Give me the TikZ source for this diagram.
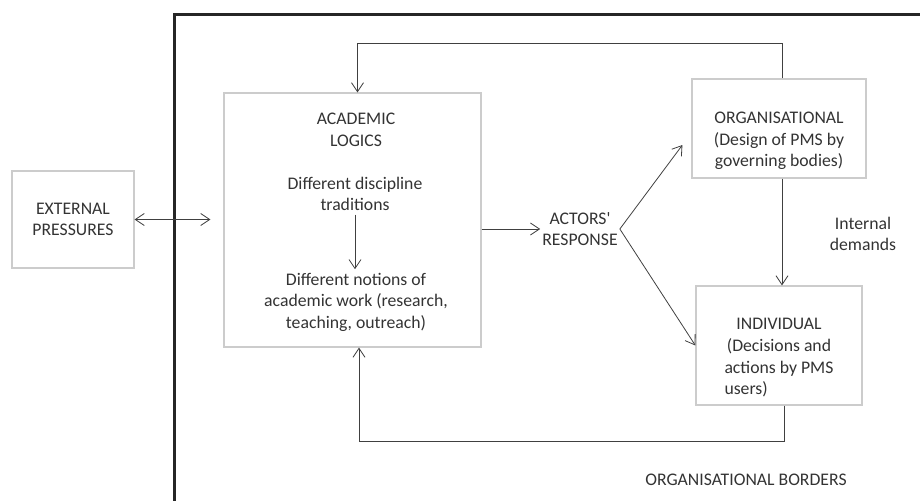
\documentclass[tikz,border=0pt]{standalone}
\usepackage{fontspec}
\setmainfont{Carlito}
\usetikzlibrary{arrows.meta}

\begin{document}
\begin{tikzpicture}[x=1pt, y=-1pt, >={Straight Barb[length=9pt,width=12pt]},
    every node/.style={font=\fontsize{17.7}{21.6}\selectfont, text=black!80, align=center},
    box/.style={draw=black!20, line width=1.2pt},
    conn/.style={draw=black!75, line width=0.8pt},
    frame/.style={draw=black!85, line width=3pt}]

    \useasboundingbox (0,0) rectangle (920,501);
    \draw [frame] (920,14) -- (174,14) -- (174,501);

    \node [box, minimum width=122, minimum height=97] (ext) at (73, 219.5) {EXTERNAL\\PRESSURES};
    \node [box, minimum width=257, minimum height=254] (acad) at (352.5, 220) {};
    \node (logics) at (356, 130) {ACADEMIC\\LOGICS};
    \node (trad) at (355, 194) {Different discipline\\traditions};
    \node (notions) at (356, 302) {Different notions of\\academic work (research,\\teaching, outreach)};
    \node [inner sep=2pt] (resp) at (580, 229) {ACTORS\textquotesingle\\RESPONSE};
    \node [box, minimum width=174, minimum height=99] (org) at (779, 128.5) {};
    \node (orgtxt) at (779, 141) {ORGANISATIONAL\\(Design of PMS by\\governing bodies)};
    \node [box, minimum width=166, minimum height=119] (ind) at (779, 345.5) {};
    \node (indtxt) at (779, 358) {INDIVIDUAL\\(Decisions and\\actions by PMS\\\rlap{users)}\phantom{actions by PMS}};
    \node (dem) at (863, 234) {Internal\\demands};
    \node (bord) at (746, 480) {ORGANISATIONAL BORDERS};

    \draw [conn, <->, shorten >=13pt] (ext.east) to (ext.east -| acad.west);
    \draw [conn, ->] (trad.south) to (trad.south |- notions.north);
    \draw [conn, ->] (acad.east |- resp) to (resp.west);
    \draw [conn, ->] (resp.east) to ([shift={(-9,16.5)}]org.west);
    \draw [conn, ->] (resp.east) to (ind.west);
    \draw [conn, ->] ([xshift=3pt]org.south) to ([xshift=3pt]ind.north);
    \draw [conn, ->] ([xshift=3pt]org.north) -- ++(0,-35) -| ([xshift=5pt]acad.north);
    \draw [conn, ->] ([xshift=5pt]ind.south) -- ++(0,36) -| ([xshift=6.5pt]acad.south);

\end{tikzpicture}
\end{document}
